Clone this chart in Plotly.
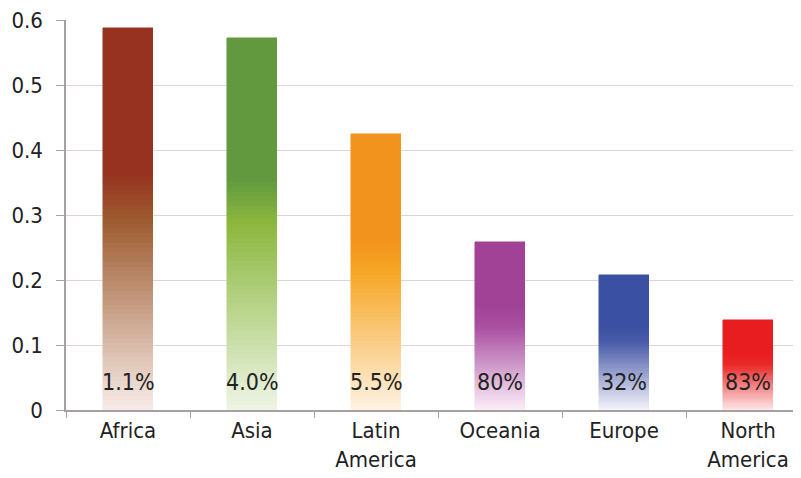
import plotly.graph_objects as go

categories = ["Africa", "Asia", "Latin<br>America", "Oceania", "Europe", "North<br>America"]
values = [0.588, 0.572, 0.425, 0.258, 0.208, 0.138]
bar_labels = ["1.1%", "4.0%", "5.5%", "80%", "32%", "83%"]
y_ticks = [0, 0.1, 0.2, 0.3, 0.4, 0.5, 0.6]
y_ticktext = ["0", "0.1", "0.2", "0.3", "0.4", "0.5", "0.6"]

# gradient stops per bar: (top, mid, bottom)
stops = [
    ("#973220", "#9c5a2e", "#f7ece8"),
    ("#62993e", "#8cb83e", "#eef5e6"),
    ("#f2931e", "#f7a624", "#fef3e3"),
    ("#a24296", "#a84ea0", "#fbeef8"),
    ("#3a50a2", "#4a5ca8", "#f3f3fb"),
    ("#e81d1f", "#ea2a2a", "#fde8e8"),
]

FONT = "DejaVu Sans Condensed, DejaVu Sans, sans-serif"
N = 80


def hex2rgb(h):
    h = h.lstrip("#")
    return tuple(int(h[i:i + 2], 16) for i in (0, 2, 4))


def mix(a, b, f):
    ra, rb = hex2rgb(a), hex2rgb(b)
    return "rgb(%d,%d,%d)" % tuple(round(ra[i] + (rb[i] - ra[i]) * f) for i in range(3))


def grad(top, mid, bot, t):
    if t >= 0.62:
        return mix(top, top, 0)
    if t >= 0.5:
        return mix(mid, top, (t - 0.5) / 0.12)
    return mix(bot, mid, t / 0.5)


fig = go.Figure()
for k in range(N):
    t = (k + 0.5) / N
    cols = [grad(*s, t) for s in stops]
    fig.add_trace(go.Bar(
        x=categories, y=[v / N for v in values],
        marker=dict(color=cols, line=dict(width=0.5, color=cols)),
        width=0.41, showlegend=False, hoverinfo="skip",
    ))

for c, lab in zip(categories, bar_labels):
    fig.add_annotation(x=c, y=0, yanchor="bottom", yshift=13, text=lab, showarrow=False,
                       font=dict(family=FONT, size=23, color="#222"))

fig.update_layout(
    barmode="stack", bargap=0,
    width=801, height=478,
    margin=dict(l=58, r=8, t=12, b=76, autoexpand=False),
    paper_bgcolor="white", plot_bgcolor="white",
    font=dict(family=FONT, size=22, color="#222"),
)
fig.update_xaxes(
    range=[-0.5, 5.427], showline=True, linecolor="#a8a0a0", linewidth=1.5,
    ticks="outside", tickson="boundaries", ticklen=6, tickcolor="#a8a0a0",
    showgrid=False, automargin=False, ticklabeloverflow="allow",
    tickfont=dict(family=FONT, size=22, color="#222"),
)
fig.update_yaxes(
    range=[0, 0.6], tickvals=y_ticks, ticktext=y_ticktext,
    showline=True, linecolor="#a8a0a0", linewidth=1.5,
    ticks="outside", ticklen=8, tickcolor="#a8a0a0",
    showgrid=True, gridcolor="#ddd5d5", gridwidth=1.2, zeroline=False,
    automargin=False, ticklabeloverflow="allow",
    ticklabelstandoff=9, tickfont=dict(family=FONT, size=22, color="#222"),
)

fig.write_html("out.html")
